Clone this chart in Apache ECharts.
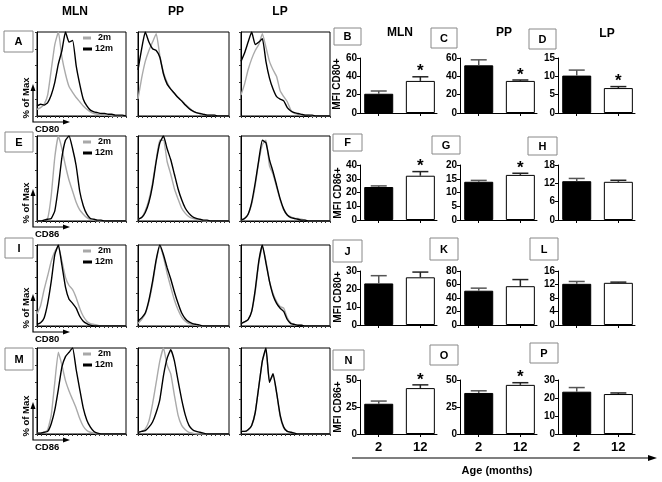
<!DOCTYPE html>
<html><head><meta charset="utf-8">
<script src="https://cdn.jsdelivr.net/npm/echarts@6/dist/echarts.min.js"></script>
<style>html,body{margin:0;padding:0;background:#fff}#c{width:662px;height:482px}</style>
</head><body><div id="c"></div>
<script>
// ---------- histogram data (% of max at each fluorescence channel) ----------
const channel = [0,4,8,12,16,20,24,28,32,36,40,44,48,52,56,60,64,68,72,76,80,84,88,92,96,100];

const a_mln_2m  = [8,10,14,25,55,85,100,70,50,35,28,22,17,12,8,5,3,2,1,1,1,0,0,0,0,0];
const a_mln_12m = [12,14,13,16,25,40,62,78,100,88,90,60,38,20,12,7,5,4,3,3,2,2,1,1,1,0];
const a_pp_2m   = [20,45,65,78,88,98,72,52,40,32,27,22,18,14,10,6,4,3,2,1,1,1,0,0,0,0];
const a_pp_12m  = [55,80,100,88,80,78,70,50,38,32,27,22,18,13,9,6,4,3,2,1,1,1,0,0,0,0];
const a_lp_2m   = [25,38,55,68,78,85,98,82,65,55,47,30,23,17,7,3,2,1,1,1,0,0,0,0,0,0];
const a_lp_12m  = [65,75,88,100,85,88,92,65,45,32,23,20,18,10,6,4,3,2,1,1,1,0,0,0,0,0];

const e_mln_2m  = [0,0,1,3,30,75,100,85,65,48,35,22,13,8,4,2,1,0,0,0,0,0,0,0,0,0];
const e_mln_12m = [0,0,1,2,3,12,40,75,95,100,85,65,35,18,8,3,2,1,1,0,0,0,0,0,0,0];
const e_pp_2m   = [2,4,12,25,45,72,95,95,70,55,38,26,15,9,5,3,2,1,0,0,0,0,0,0,0,0];
const e_pp_12m  = [2,4,10,22,42,70,92,100,85,72,55,38,25,15,9,5,3,2,1,1,0,0,0,0,0,0];
const e_lp_2m   = [1,3,8,20,42,70,90,95,65,55,40,25,13,7,5,3,3,2,1,0,0,0,0,0,0,0];
const e_lp_12m  = [1,3,8,22,45,72,95,92,72,58,42,26,14,7,4,3,2,1,1,0,0,0,0,0,0,0];

const i_mln_2m  = [15,25,45,62,80,92,98,80,60,50,45,35,22,12,6,3,2,1,0,0,0,0,0,0,0,0];
const i_mln_12m = [2,4,10,28,55,88,100,75,48,33,28,22,12,6,3,1,0,0,0,0,0,0,0,0,0,0];
const i_pp_2m   = [3,8,15,30,52,80,98,85,65,48,32,20,11,6,3,2,1,0,0,0,0,0,0,0,0,0];
const i_pp_12m  = [6,10,16,32,55,82,100,88,72,58,42,28,16,9,5,3,2,1,0,0,0,0,0,0,0,0];
const i_lp_2m   = [3,5,8,18,42,78,98,80,55,40,30,24,22,10,4,2,1,1,0,0,0,0,0,0,0,0];
const i_lp_12m  = [3,5,8,18,45,80,100,78,55,38,28,22,18,8,3,2,1,1,0,0,0,0,0,0,0,0];

const m_mln_2m  = [1,1,2,5,22,60,95,80,62,50,40,30,18,9,4,2,1,0,0,0,0,0,0,0,0,0];
const m_mln_12m = [1,1,2,3,12,28,52,78,90,95,100,75,52,30,16,8,3,1,0,0,0,0,0,0,0,0];
const m_pp_2m   = [2,3,6,15,35,60,85,100,80,70,45,22,10,5,2,1,0,0,0,0,0,0,0,0,0,0];
const m_pp_12m  = [2,3,4,8,14,25,40,68,88,98,85,62,40,22,10,5,3,2,1,0,0,0,0,0,0,0];
const m_lp_2m   = [3,3,5,10,25,55,85,98,62,68,48,20,7,3,2,1,0,0,0,0,0,0,0,0,0,0];
const m_lp_12m  = [3,3,5,10,25,55,85,100,60,70,48,22,8,3,2,1,0,0,0,0,0,0,0,0,0,0];

// ---------- bar data (MFI, 2 and 12 months) ----------
const ages = ['2', '12'];
const B_mean = [21, 35],     B_err = [24, 39.5],   B_star = [0, 1];
const C_mean = [52, 35],     C_err = [58, 36],     C_star = [0, 1];
const D_mean = [10.2, 6.8],  D_err = [11.7, 7.2],  D_star = [0, 1];
const F_mean = [24, 32.2],   F_err = [24.8, 35.2], F_star = [0, 1];
const G_mean = [13.9, 16.4], G_err = [14.4, 17],   G_star = [0, 1];
const H_mean = [12.7, 12.5], H_err = [13.6, 13],   H_star = [0, 0];
const J_mean = [23.1, 26.5], J_err = [27.4, 29.4], J_star = [0, 0];
const K_mean = [50.8, 57.5], K_err = [54.6, 67.3], K_star = [0, 0];
const L_mean = [12.2, 12.5], L_err = [12.9, 12.7], L_star = [0, 0];
const N_mean = [28, 42.5],   N_err = [30.5, 45.5], N_star = [0, 1];
const O_mean = [38, 45.5],   O_err = [40, 47.5],   O_star = [0, 1];
const P_mean = [23.5, 22.2], P_err = [25.8, 22.8], P_star = [0, 0];

const yMax = {B:60,C:60,D:15,F:40,G:20,H:18,J:30,K:80,L:16,N:50,O:50,P:30};
const yStep = {B:20,C:20,D:5,F:10,G:5,H:6,J:10,K:20,L:4,N:25,O:25,P:10};

// ---------- layout ----------
const FONT = '"Liberation Sans", Arial, sans-serif';
const histCols = [{left:37,width:89},{left:138,width:91},{left:241,width:89}];
const histRows = [{top:32,bot:116},{top:136,bot:221},{top:245,bot:326},{top:348,bot:434}];
const histSets = [
  [[a_mln_2m,a_mln_12m],[a_pp_2m,a_pp_12m],[a_lp_2m,a_lp_12m]],
  [[e_mln_2m,e_mln_12m],[e_pp_2m,e_pp_12m],[e_lp_2m,e_lp_12m]],
  [[i_mln_2m,i_mln_12m],[i_pp_2m,i_pp_12m],[i_lp_2m,i_lp_12m]],
  [[m_mln_2m,m_mln_12m],[m_pp_2m,m_pp_12m],[m_lp_2m,m_lp_12m]]
];
const barCols = [360, 460, 558];
const barRows = [{top:58,h:55},{top:165,h:55},{top:271,h:54},{top:380,h:54}];
const barPanels = [
  ['B',B_mean,B_err,B_star],['C',C_mean,C_err,C_star],['D',D_mean,D_err,D_star],
  ['F',F_mean,F_err,F_star],['G',G_mean,G_err,G_star],['H',H_mean,H_err,H_star],
  ['J',J_mean,J_err,J_star],['K',K_mean,K_err,K_star],['L',L_mean,L_err,L_star],
  ['N',N_mean,N_err,N_star],['O',O_mean,O_err,O_star],['P',P_mean,P_err,P_star]
];

const grid = [], xAxis = [], yAxis = [], series = [];
let gi = 0;
const black = '#000';
histSets.forEach((row, r) => {
  row.forEach((pair, c) => {
    const R = histRows[r], C = histCols[c];
    grid.push({left:C.left, top:R.top, width:C.width, height:R.bot-R.top, show:true, borderColor:black, borderWidth:1, backgroundColor:'#fff'});
    xAxis.push({type:'value', gridIndex:gi, min:0, max:100, interval:5,
      axisLine:{show:true, onZero:false, lineStyle:{color:black, width:1}},
      axisTick:{show:true, length:2, lineStyle:{color:'#333'}},
      axisLabel:{show:false}, splitLine:{show:false}});
    yAxis.push({type:'value', gridIndex:gi, min:0, max:100, interval:20,
      axisLine:{show:true, onZero:false, lineStyle:{color:black, width:1}},
      axisTick:{show:true, length:2, lineStyle:{color:'#333'}},
      axisLabel:{show:false}, splitLine:{show:false}});
    const colors = ['#aaaaaa', '#000'];
    pair.forEach((arr, k) => {
      series.push({type:'line', xAxisIndex:gi, yAxisIndex:gi, showSymbol:false, symbol:'none',
        data: channel.map((x, j) => [x, arr[j]]), smooth:0.15, z: 2 + k,
        lineStyle:{color:colors[k], width:1.4}, animation:false, silent:true});
    });
    gi++;
  });
});

barPanels.forEach((p, idx) => {
  const r = Math.floor(idx / 3), c = idx % 3;
  const [name, mean, err, star] = p;
  grid.push({left:barCols[c], top:barRows[r].top, width:77, height:barRows[r].h, show:false});
  xAxis.push({type:'value', gridIndex:gi, min:-0.45, max:1.4,
    axisLine:{show:true, onZero:false, lineStyle:{color:black, width:1}},
    axisTick:{show:true, customValues:[0,1], length:3, lineStyle:{color:black}},
    axisLabel:{show: r === 3, customValues:[0,1], formatter: v => ages[Math.round(v)] || '',
      fontFamily:FONT, fontWeight:'bold', fontSize:13, color:black, margin:7},
    splitLine:{show:false}});
  yAxis.push({type:'value', gridIndex:gi, min:0, max:yMax[name], interval:yStep[name],
    axisLine:{show:true, onZero:false, lineStyle:{color:black, width:1}},
    axisTick:{show:true, length:3, lineStyle:{color:black}},
    axisLabel:{fontFamily:FONT, fontWeight:'bold', fontSize:10, color:black, margin:3},
    splitLine:{show:false}});
  series.push({type:'bar', xAxisIndex:gi, yAxisIndex:gi, barWidth:29, animation:false,
    data: mean.map((v, k) => ({value:[k, v], itemStyle:{color: k === 0 ? '#000' : '#fff', borderColor:'#000', borderWidth:1}}))});
  series.push({type:'custom', xAxisIndex:gi, yAxisIndex:gi, animation:false, z:5,
    encode:{x:0, y:[1,2]},
    data: mean.map((v, k) => [k, v, err[k], star[k]]),
    renderItem: (params, api) => {
      const x = api.value(0), m = api.value(1), e = api.value(2), s = api.value(3);
      const p0 = api.coord([x, m]), p1 = api.coord([x, e]);
      const col = x === 0 ? '#555' : '#222';
      const ch = [
        {type:'line', shape:{x1:p0[0], y1:p0[1], x2:p1[0], y2:p1[1]}, style:{stroke:col, lineWidth:1.5}},
        {type:'line', shape:{x1:p1[0]-8, y1:p1[1], x2:p1[0]+8, y2:p1[1]}, style:{stroke:col, lineWidth:1.5}}
      ];
      if (s) ch.push({type:'text', style:{text:'*', x:p1[0], y:p1[1]-5, align:'center', verticalAlign:'middle',
        fontSize:17, fontWeight:'bold', fontFamily:FONT, fill:'#000'}});
      return {type:'group', children:ch};
    }});
  gi++;
});

// ---------- graphics (labels, boxes, arrows) ----------
const g = [];
function txt(x, y, t, size, opts) {
  g.push(Object.assign({type:'text', x, y, style:{text:t, fontFamily:FONT, fontWeight:'bold', fontSize:size,
    fill:'#000', align:'center', verticalAlign:'middle'}}, opts || {}));
}
function box(x, y, w, h, letter) {
  g.push({type:'rect', shape:{x, y, width:w, height:h}, style:{fill:'#fff', stroke:'#888', lineWidth:1}});
  txt(x + w/2, y + h/2 + 0.5, letter, 11);
}
// column titles
txt(75, 12, 'MLN', 12); txt(176, 12, 'PP', 12); txt(280, 12, 'LP', 12);
txt(400, 33, 'MLN', 12); txt(504, 33, 'PP', 12); txt(607, 34, 'LP', 12);
// panel letter boxes
box(4, 31, 29, 21, 'A'); box(5, 132, 28, 20, 'E'); box(5, 238, 28, 20, 'I'); box(5, 348, 28, 22, 'M');
box(334, 28, 27, 17, 'B'); box(431, 28, 26, 20, 'C'); box(529, 29, 27, 20, 'D');
box(333, 134, 29, 17, 'F'); box(432, 136, 28, 18, 'G'); box(528, 137, 29, 18, 'H');
box(333, 240, 29, 22, 'J'); box(430, 238, 28, 22, 'K'); box(530, 238, 28, 22, 'L');
box(333, 350, 31, 20, 'N'); box(430, 345, 28, 20, 'O'); box(530, 343, 28, 20, 'P');
// y-axis names of bar rows
const yNames = [['MFI CD80+', 337, 84], ['MFI CD86+', 338, 193], ['MFI CD80+', 338, 297], ['MFI CD86+', 338, 407]];
yNames.forEach(([t, x, y]) => txt(x, y, t, 10, {rotation: Math.PI/2}));
// histogram axis arrows and labels
const markers = ['CD80', 'CD86', 'CD80', 'CD86'];
histRows.forEach((R, r) => {
  const fb = R.bot, cy = fb + 6, cx = 33;
  g.push({type:'polyline', shape:{points:[[cx, fb-26], [cx, cy], [cx+31, cy]]}, style:{stroke:'#000', lineWidth:1.2, fill:null}});
  g.push({type:'polygon', shape:{points:[[cx, fb-32], [cx-2.5, fb-25], [cx+2.5, fb-25]]}, style:{fill:'#000'}});
  g.push({type:'polygon', shape:{points:[[cx+37, cy], [cx+30, cy-2.5], [cx+30, cy+2.5]]}, style:{fill:'#000'}});
  txt(26, fb - 18, '% of Max', 9.5, {rotation: Math.PI/2});
  g.push({type:'text', x:35, y:fb+8, style:{text:markers[r], fontFamily:FONT, fontWeight:'bold', fontSize:9.5, fill:'#000', align:'left', verticalAlign:'top'}});
  // legend
  const t = R.top;
  g.push({type:'line', shape:{x1:83, y1:t+6, x2:91, y2:t+6}, style:{stroke:'#a8a8a8', lineWidth:3}});
  g.push({type:'line', shape:{x1:83, y1:t+17, x2:92, y2:t+17}, style:{stroke:'#000', lineWidth:3}});
  g.push({type:'text', x:98, y:t+6, style:{text:'2m', fontFamily:FONT, fontWeight:'bold', fontSize:9, fill:'#000', align:'left', verticalAlign:'middle'}});
  g.push({type:'text', x:95, y:t+17, style:{text:'12m', fontFamily:FONT, fontWeight:'bold', fontSize:9, fill:'#000', align:'left', verticalAlign:'middle'}});
});
// age arrow
g.push({type:'line', shape:{x1:352, y1:458, x2:650, y2:458}, style:{stroke:'#000', lineWidth:1.2}});
g.push({type:'polygon', shape:{points:[[657, 458], [648, 455], [648, 461]]}, style:{fill:'#000'}});
txt(497, 471, 'Age (months)', 11);

const chart = echarts.init(document.getElementById('c'), null, {renderer:'canvas'});
chart.setOption({animation:false, backgroundColor:'#fff', grid, xAxis, yAxis, series,
  graphic:{elements: g.map(e => Object.assign({z:100}, e))}});
</script>
</body></html>
